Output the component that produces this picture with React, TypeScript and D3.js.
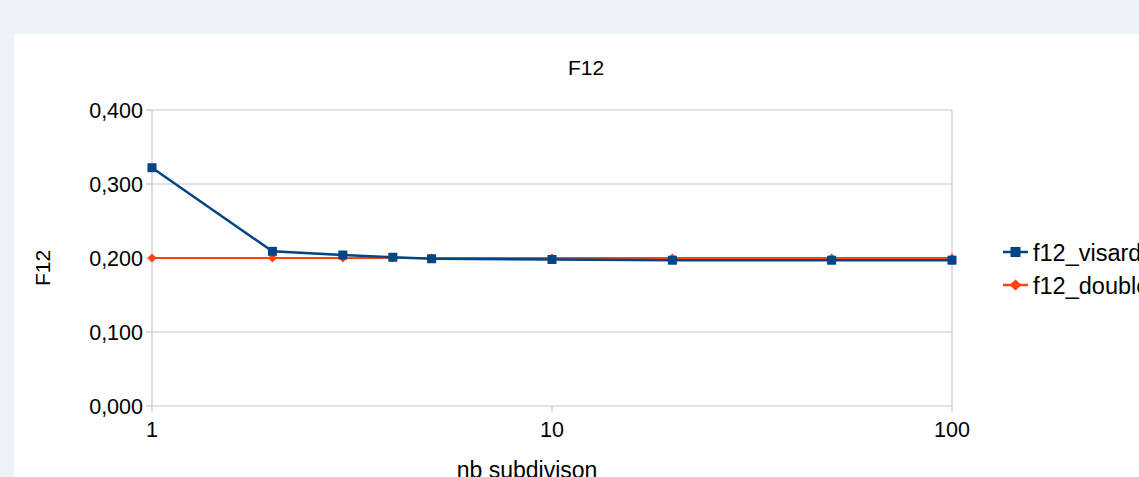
import { line, scaleLinear, scaleLog, symbol, symbolSquare } from "d3";

const subdivisions = [1, 2, 3, 4, 5, 10, 20, 50, 100];
const visardValues = [0.322, 0.209, 0.204, 0.201, 0.199, 0.198, 0.197, 0.197, 0.197];
const doubleValues = [0.2, 0.2, 0.2, 0.2, 0.2, 0.2, 0.2, 0.2, 0.2];
const yTicks = [0, 0.1, 0.2, 0.3, 0.4];
const xTicks = [1, 10, 100];
const seriesNames = ["f12_visard", "f12_double"];

const BLUE = "#004586";
const RED = "#ff420e";
const GRID = "#c8c8c8";
const FONT = "'Liberation Sans', Arial, sans-serif";

const diamondPath = (w: number, h: number) => `M0,${-h}L${w},0L0,${h}L${-w},0Z`;

export default function App() {
  const width = 1139;
  const height = 477;
  const left = 152;
  const right = 952;
  const top = 110;
  const bottom = 406;

  const x = scaleLog().domain([1, 100]).range([left, right]);
  const y = scaleLinear().domain([0, 0.4]).range([bottom, top]);

  const pts = (vals: number[]) => subdivisions.map((s, i) => [s, vals[i]] as [number, number]);
  const path = line<[number, number]>()
    .x((d) => x(d[0]))
    .y((d) => y(d[1]));

  const square = symbol().type(symbolSquare).size(81)()!;
  const legendSquare = symbol().type(symbolSquare).size(100)()!;
  const fmt = (v: number) => v.toFixed(3).replace(".", ",");

  return (
    <svg
      width={width}
      height={height}
      style={{ position: "fixed", left: 0, top: 0, fontFamily: FONT }}
    >
      <rect x={0} y={0} width={width} height={height} fill="#eef3f9" />
      <rect x={14} y={34} width={width - 14} height={height - 34} fill="#ffffff" />

      {yTicks.map((t) => (
        <g key={t}>
          <line x1={left} x2={right} y1={y(t)} y2={y(t)} stroke={GRID} strokeWidth={1.2} />
          <line x1={left - 6} x2={left} y1={y(t)} y2={y(t)} stroke={GRID} strokeWidth={1.2} />
          <text x={left - 9} y={y(t) + 7.5} textAnchor="end" fontSize={21.5} fill="#000">
            {fmt(t)}
          </text>
        </g>
      ))}
      <line x1={left} x2={left} y1={top} y2={bottom} stroke={GRID} strokeWidth={1.2} />
      <line x1={right} x2={right} y1={top} y2={bottom} stroke={GRID} strokeWidth={1.2} />
      {xTicks.map((t) => (
        <g key={t}>
          <line x1={x(t)} x2={x(t)} y1={bottom} y2={bottom + 6} stroke={GRID} strokeWidth={1.2} />
          <text x={x(t)} y={437} textAnchor="middle" fontSize={21.5} fill="#000">
            {t}
          </text>
        </g>
      ))}

      <text x={586} y={75} textAnchor="middle" fontSize={21} fill="#000">
        F12
      </text>
      <text
        transform={`translate(50,268) rotate(-90)`}
        textAnchor="middle"
        fontSize={21}
        fill="#000"
      >
        F12
      </text>
      <text x={527} y={478} textAnchor="middle" fontSize={23} fill="#000">
        nb subdivison
      </text>

      <path d={path(pts(doubleValues))!} fill="none" stroke={RED} strokeWidth={2} />
      {pts(doubleValues).map((d, i) => (
        <path
          key={i}
          d={diamondPath(4.5, 4.5)}
          transform={`translate(${x(d[0])},${y(d[1])})`}
          fill={RED}
        />
      ))}
      <path d={path(pts(visardValues))!} fill="none" stroke={BLUE} strokeWidth={2.5} />
      {pts(visardValues).map((d, i) => (
        <path key={i} d={square} transform={`translate(${x(d[0])},${y(d[1])})`} fill={BLUE} />
      ))}

      {seriesNames.map((name, i) => {
        const ly = 252 + i * 33;
        const color = i === 0 ? BLUE : RED;
        return (
          <g key={name}>
            <line x1={1003} x2={1028} y1={ly} y2={ly} stroke={color} strokeWidth={2.5} />
            <path
              d={i === 0 ? legendSquare : diamondPath(6, 5.5)}
              transform={`translate(1015.5,${ly})`}
              fill={color}
            />
            <text x={1033} y={ly + 8.5} fontSize={23.5} fill="#000">
              {name}
            </text>
          </g>
        );
      })}
    </svg>
  );
}
